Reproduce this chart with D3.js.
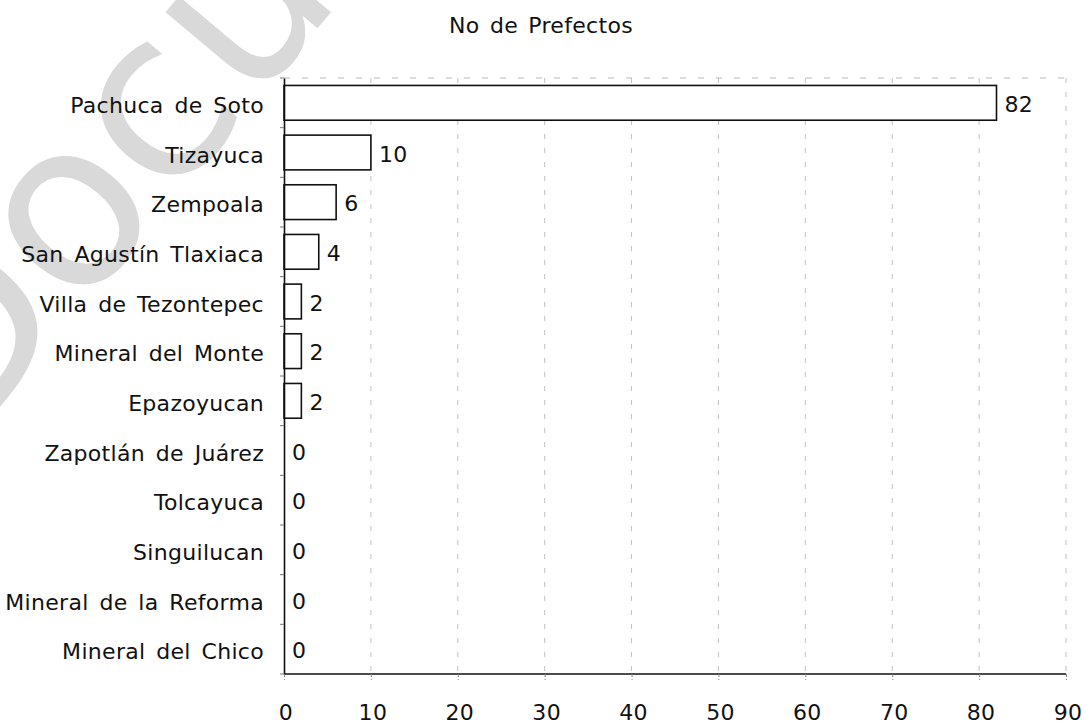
<!DOCTYPE html>
<html>
<head>
<meta charset="utf-8">
<script src="https://cdn.jsdelivr.net/npm/d3@7"></script>
<style>
  html, body { margin: 0; padding: 0; background: #fff; }
  svg { display: block; }
  text { font-family: "DejaVu Sans", Verdana, sans-serif; fill: #111; }
</style>
</head>
<body>
<svg id="chart" width="1085" height="721"></svg>
<script>
// Prefects per municipality
const municipios = [
  "Pachuca de Soto", "Tizayuca", "Zempoala", "San Agustín Tlaxiaca",
  "Villa de Tezontepec", "Mineral del Monte", "Epazoyucan",
  "Zapotlán de Juárez", "Tolcayuca", "Singuilucan",
  "Mineral de la Reforma", "Mineral del Chico"
];
const prefectos = [82, 10, 6, 4, 2, 2, 2, 0, 0, 0, 0, 0];
const xTicks = [0, 10, 20, 30, 40, 50, 60, 70, 80, 90];
const titulo = "No de Prefectos";
const marcaAgua = "Document";

const svg = d3.select("#chart");
const margin = { top: 78, left: 284, right: 19, bottom: 47 };
const W = 1085, H = 721;

const x = d3.scaleLinear().domain([0, 90]).range([margin.left, W - margin.right]);
const y = d3.scaleBand().domain(municipios).range([margin.top, H - margin.bottom]).paddingInner(0.3).paddingOuter(0.15);

// faint diagonal watermark behind the chart
svg.append("text")
  .attr("transform", "translate(-38,452) rotate(-50)")
  .style("font-size", "232px")
  .style("fill", "#d9d9d9")
  .text(marcaAgua);

// title
svg.append("text")
  .attr("x", 541).attr("y", 33)
  .attr("text-anchor", "middle")
  .style("font-size", "22px")
  .style("letter-spacing", "0.3px")
  .style("word-spacing", "3px")
  .text(titulo);

// vertical gridlines
svg.append("g")
  .selectAll("line")
  .data(xTicks.slice(1))
  .join("line")
  .attr("x1", d => x(d)).attr("x2", d => x(d))
  .attr("y1", margin.top).attr("y2", H - margin.bottom)
  .attr("stroke", "#9a9a9a")
  .attr("stroke-width", 1)
  .attr("stroke-dasharray", "5,9")
  .attr("opacity", 0.6);

// top border (dotted, faint)
svg.append("line")
  .attr("x1", x(0)).attr("x2", x(90))
  .attr("y1", margin.top).attr("y2", margin.top)
  .attr("stroke", "#b8b8b8")
  .attr("stroke-dasharray", "6,12")
  .attr("stroke-width", 1);

// bars
svg.append("g")
  .selectAll("rect")
  .data(prefectos.map((v, i) => ({ m: municipios[i], v })).filter(d => d.v > 0))
  .join("rect")
  .attr("x", x(0))
  .attr("y", d => y(d.m))
  .attr("width", d => x(d.v) - x(0))
  .attr("height", y.bandwidth())
  .attr("fill", "#fff")
  .attr("stroke", "#111")
  .attr("stroke-width", 1.6);

// value labels
svg.append("g")
  .selectAll("text")
  .data(prefectos.map((v, i) => ({ m: municipios[i], v })))
  .join("text")
  .attr("x", d => x(d.v) + 8)
  .attr("y", d => y(d.m) + y.bandwidth() / 2 + 9)
  .style("font-size", "22px")
  .style("letter-spacing", "0.3px")
  .text(d => d.v);

// y axis with category labels
const yAxis = d3.axisLeft(y).tickSize(0).tickPadding(0);
const gy = svg.append("g").attr("transform", `translate(${margin.left},0)`).call(yAxis);
gy.select(".domain").attr("stroke", "#111").attr("stroke-width", 1.6);
gy.selectAll(".tick text")
  .attr("x", -20)
  .attr("dy", null)
  .attr("y", 10)
  .style("font-size", "22px")
  .style("letter-spacing", "0.3px")
  .style("word-spacing", "3.5px")
  .style("font-family", "DejaVu Sans")
  .attr("fill", "#111");

// small ticks between categories on the y axis
svg.append("g")
  .selectAll("line")
  .data(d3.range(municipios.length + 1))
  .join("line")
  .attr("x1", margin.left - 4).attr("x2", margin.left)
  .attr("y1", i => margin.top + i * (H - margin.bottom - margin.top) / municipios.length)
  .attr("y2", i => margin.top + i * (H - margin.bottom - margin.top) / municipios.length)
  .attr("stroke", "#777");

// x axis
const xAxis = d3.axisBottom(x).tickValues(xTicks).tickSize(6).tickPadding(25);
const gx = svg.append("g").attr("transform", `translate(0,${H - margin.bottom})`).call(xAxis);
gx.select(".domain").attr("stroke", "#111").attr("stroke-width", 1.6).attr("d", `M${x(0)},0H${x(90)}`);
gx.selectAll(".tick line").attr("stroke", "#888").attr("stroke-dasharray", "3,2");
gx.selectAll(".tick text")
  .attr("dy", null)
  .attr("y", 46)
  .attr("dx", 1.5)
  .style("font-size", "22px")
  .style("letter-spacing", "0.3px")
  .style("font-family", "DejaVu Sans")
  .attr("fill", "#111");
</script>
</body>
</html>
